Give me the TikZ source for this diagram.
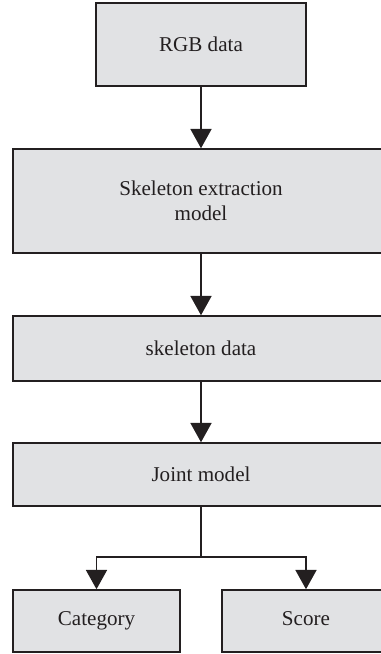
\documentclass[tikz,border=0pt]{standalone}
\usepackage{fontspec}
\setmainfont{Liberation Serif}
\usetikzlibrary{arrows.meta}
\definecolor{boxgray}{RGB}{225,226,228}
\definecolor{inkgray}{RGB}{35,31,32}

\begin{document}
\begin{tikzpicture}[
        x=0.02cm, y=-0.02cm,
        flow box/.style = {
            draw=inkgray,
            line width=0.9pt,
            fill=boxgray,
            text=inkgray,
            inner sep=0pt,
            align=center,
            font=\fontsize{12}{14}\selectfont},
        leaf box/.style = {
            flow box,
            minimum height=1.24cm,
            text height=1.6ex,
            text depth=0.5ex},
        flow arrow/.style = {
            draw=inkgray,
            line width=0.9pt,
            -{Triangle[width=12pt, length=11pt]}}
    ]
    \path[use as bounding box, clip] (0,0) rectangle (381,654);
    \node[flow box, minimum width=4.2cm, minimum height=1.66cm] (rgb) at (201,44.5) {RGB data};
    \node[flow box, minimum width=7.52cm, minimum height=2.08cm] (skel) at (201,201) {Skeleton extraction\\model};
    \node[flow box, minimum width=7.52cm, minimum height=1.3cm] (skdata) at (201,348.5) {skeleton data};
    \node[flow box, minimum width=7.52cm, minimum height=1.26cm] (joint) at (201,474.5) {Joint model};
    \node[leaf box, minimum width=3.34cm] (cat) at (96.5,621) {Category};
    \node[leaf box, minimum width=3.36cm] (score) at (306,621) {Score};
    \coordinate (split) at (201,557);

    \draw[flow arrow] (rgb) -- (skel);
    \draw[flow arrow] (skel) -- (skdata);
    \draw[flow arrow] (skdata) -- (joint);
    \draw[draw=inkgray, line width=0.9pt] (joint) -- (split);
    \draw[flow arrow] (split) -| (cat);
    \draw[flow arrow] (split) -| (score);
\end{tikzpicture}
\end{document}
